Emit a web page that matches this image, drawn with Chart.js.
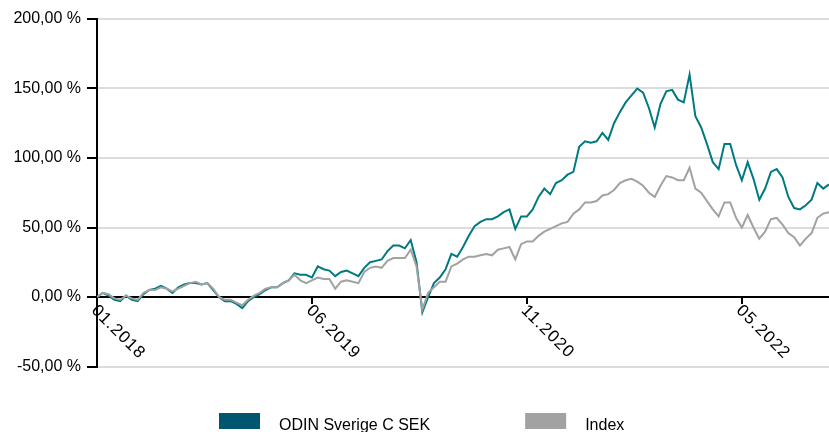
<!DOCTYPE html>
<html>
<head>
<meta charset="utf-8">
<script src="https://cdn.jsdelivr.net/npm/chart.js@4.4.1/dist/chart.umd.min.js"></script>
<style>
    html, body { margin: 0; padding: 0; background: #fff; }
    #wrap { width: 829px; height: 432px; }
</style>
</head>
<body>
<div id="wrap"><canvas id="chart" width="829" height="432"></canvas></div>
<script>
// weeks since 01.2018, sampled every second week
const weeks = [
    0, 2, 4, 6, 8, 10, 12, 14, 16, 18,
    20, 22, 24, 26, 28, 30, 32, 34, 36, 38,
    40, 42, 44, 46, 48, 50, 52, 54, 56, 58,
    60, 62, 64, 66, 68, 70, 72, 74, 76, 78,
    80, 82, 84, 86, 88, 90, 92, 94, 96, 98,
    100, 102, 104, 106, 108, 110, 112, 114, 116, 118,
    120, 122, 124, 126, 128, 130, 132, 134, 136, 138,
    140, 142, 144, 146, 148, 150, 152, 154, 156, 158,
    160, 162, 164, 166, 168, 170, 172, 174, 176, 178,
    180, 182, 184, 186, 188, 190, 192, 194, 196, 198,
    200, 202, 204, 206, 208, 210, 212, 214, 216, 218,
    220, 222, 224, 226, 228, 230, 232, 234, 236, 238,
    240, 242, 244, 246, 248, 250, 252
];

// return in %
const odinSverige = [
    0, 3, 1, -2, -3, 1, -2, -3, 2, 5,
    6, 8, 6, 3, 7, 9, 10, 10, 9, 10,
    5, 0, -3, -3, -5, -8, -3, 0, 2, 5,
    7, 7, 10, 12, 17, 16, 16, 14, 22, 20,
    19, 15, 18, 19, 17, 15, 21, 25, 26, 27,
    33, 37, 37, 35, 41, 25, -11, 0, 10, 14,
    20, 31, 29, 36, 44, 51, 54, 56, 56, 58,
    61, 63, 49, 58, 58, 63, 72, 78, 74, 82,
    84, 88, 90, 108, 112, 111, 112, 118, 113, 125,
    133, 140, 145, 150, 147, 136, 122, 139, 148, 149,
    142, 140, 160, 130, 122, 110, 97, 92, 110, 110,
    95, 84, 97, 85, 70, 78, 90, 92, 86, 72,
    64, 63, 66, 70, 82, 78, 81
];

const indexSeries = [
    0, 3, 2, -1, -2, 1, -1, -2, 3, 5,
    5, 7, 6, 4, 6, 8, 10, 11, 9, 10,
    6, 0, -2, -2, -4, -6, -2, 1, 3, 6,
    7, 7, 10, 12, 16, 12, 10, 12, 14, 13,
    13, 6, 11, 12, 11, 10, 18, 21, 22, 21,
    26, 28, 28, 28, 34, 22, -9, 3, 7, 11,
    11, 22, 24, 27, 29, 29, 30, 31, 30, 34,
    35, 36, 27, 38, 40, 40, 44, 47, 49, 51,
    53, 54, 60, 63, 68, 68, 69, 73, 74, 77,
    82, 84, 85, 83, 80, 75, 72, 80, 87, 86,
    84, 84, 93, 78, 75, 69, 63, 58, 68, 68,
    57, 50, 59, 50, 42, 47, 56, 57, 52, 46,
    43, 37, 42, 46, 57, 60, 61
];

const tickWeeks = [0, 74, 148, 222];
const tickLabels = ['01.2018', '06.2019', '11.2020', '05.2022'];
const yTicks = [-50, 0, 50, 100, 150, 200];

const FONT = '"Liberation Sans", Arial, sans-serif';

const colors = {
    odinLine: '#007a80',
    odinBox: '#00566f',
    index: '#a2a2a2',
    grid: '#dcdcdc',
    axis: '#000000',
    text: '#000000'
};

function pct(v) {
    return v.toFixed(2).replace('.', ',') + ' %';
}

// x labels run down-right from the tick, plus the legend below the plot
const extras = {
    id: 'extras',
    afterDraw(chart) {
        const { ctx, scales: { x, y } } = chart;
        const y0 = y.getPixelForValue(0);
        ctx.save();
        ctx.font = '17px ' + FONT;
        ctx.fillStyle = colors.text;
        ctx.textAlign = 'left';
        ctx.textBaseline = 'top';
        if ('letterSpacing' in ctx) ctx.letterSpacing = '1px';
        tickWeeks.forEach((w, i) => {
            ctx.save();
            ctx.translate(x.getPixelForValue(w) + 3, y0 + 5);
            ctx.rotate(Math.PI / 4);
            ctx.fillText(tickLabels[i], 0, 0);
            ctx.restore();
        });
        if ('letterSpacing' in ctx) ctx.letterSpacing = '0px';

        ctx.font = '16px ' + FONT;
        const items = [
            { text: 'ODIN Sverige C SEK', color: colors.odinBox },
            { text: 'Index', color: colors.index }
        ];
        const boxW = 41, boxH = 16, gap = 19, itemGap = 95;
        const widths = items.map(it => ctx.measureText(it.text).width);
        let lx = 219;
        ctx.textBaseline = 'alphabetic';
        items.forEach((it, i) => {
            ctx.fillStyle = it.color;
            ctx.fillRect(lx, 413, boxW, boxH);
            ctx.fillStyle = colors.text;
            ctx.fillText(it.text, lx + boxW + gap, 430);
            lx += boxW + gap + widths[i] + itemGap;
        });
        ctx.restore();
    }
};

new Chart(document.getElementById('chart'), {
    type: 'line',
    data: {
        datasets: [
            {
                label: 'ODIN Sverige C SEK',
                data: weeks.map((w, i) => ({ x: w, y: odinSverige[i] })),
                borderColor: colors.odinLine,
                backgroundColor: colors.odinBox,
                borderWidth: 2,
                pointRadius: 0,
                tension: 0,
                order: 1
            },
            {
                label: 'Index',
                data: weeks.map((w, i) => ({ x: w, y: indexSeries[i] })),
                borderColor: colors.index,
                backgroundColor: colors.index,
                borderWidth: 2,
                pointRadius: 0,
                tension: 0,
                order: 0
            }
        ]
    },
    options: {
        responsive: false,
        animation: false,
        devicePixelRatio: 1,
        layout: { padding: { top: 19, bottom: 65.5, left: 0, right: 0 } },
        plugins: {
            legend: { display: false },
            tooltip: { enabled: false }
        },
        scales: {
            x: {
                type: 'linear',
                position: { y: 0 },
                min: 0,
                max: 252,
                afterBuildTicks: scale => { scale.ticks = tickWeeks.map(v => ({ value: v })); },
                ticks: { display: false },
                grid: { drawOnChartArea: false, drawTicks: true, tickLength: 6, tickColor: colors.axis, lineWidth: 2 },
                border: { color: colors.axis, width: 2 }
            },
            y: {
                min: -50,
                max: 200,
                afterBuildTicks: scale => { scale.ticks = yTicks.map(v => ({ value: v })); },
                afterFit: scale => { scale.width = 97; },
                ticks: {
                    color: colors.text,
                    padding: 6,
                    font: { family: FONT, size: 16 },
                    callback: v => pct(v)
                },
                grid: {
                    color: ctx => ctx.tick && ctx.tick.value === 0 ? colors.axis : colors.grid,
                    lineWidth: 2,
                    tickLength: 10,
                    tickColor: colors.axis
                },
                border: { color: colors.axis, width: 2 }
            }
        }
    },
    plugins: [extras]
});
</script>
</body>
</html>
